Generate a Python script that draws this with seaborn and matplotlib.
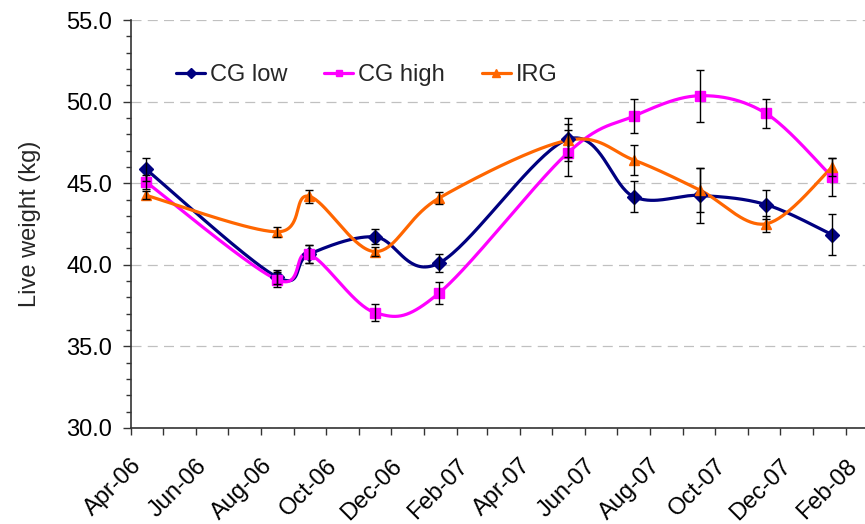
import numpy as np
import pandas as pd
import matplotlib
matplotlib.use("Agg")
import matplotlib.pyplot as plt
import matplotlib.dates as mdates
from matplotlib.lines import Line2D
from matplotlib.ticker import MultipleLocator, FormatStrFormatter
import seaborn as sns

# sampling dates and live weight (kg) with SE
dates = ["2006-04-15", "2006-08-16", "2006-09-15", "2006-11-16", "2007-01-15",
         "2007-05-16", "2007-07-17", "2007-09-17", "2007-11-18", "2008-01-19"]
cg_low = [45.86, 39.25, 40.65, 41.71, 40.10, 47.69, 44.17, 44.25, 43.69, 41.85]
cg_low_se = [0.71, 0.45, 0.55, 0.46, 0.56, 1.33, 0.95, 1.70, 0.87, 1.27]
cg_high = [45.08, 39.09, 40.65, 37.07, 38.26, 46.86, 49.11, 50.36, 49.28, 45.39]
cg_high_se = [0.45, 0.45, 0.55, 0.50, 0.67, 1.39, 1.03, 1.60, 0.90, 1.16]
irg = [44.26, 42.02, 44.20, 40.81, 44.08, 47.63, 46.42, 44.58, 42.51, 45.97]
irg_se = [0.25, 0.30, 0.39, 0.30, 0.38, 1.00, 0.91, 1.37, 0.50, 0.55]

series = [("CG low", cg_low, cg_low_se, "#000080", "D", 7),
          ("CG high", cg_high, cg_high_se, "#FF00FF", "s", 6.5),
          ("IRG", irg, irg_se, "#FF6600", "^", 7.5)]


def smooth(x, y, n=40):
    # Excel-style smoothed line (Bezier through the points)
    x = np.asarray(x, float)
    y = np.asarray(y, float)
    pts = np.column_stack([x, y])
    pad = np.vstack([pts[:1], pts, pts[-1:]])
    t = np.linspace(0, 1, n)[:, None]
    out = []
    for i in range(len(pts) - 1):
        p0, p1, p2, p3 = pad[i], pad[i + 1], pad[i + 2], pad[i + 3]
        c1 = p1 + (p2 - p0) / 6
        c2 = p2 - (p3 - p1) / 6
        seg = ((1 - t) ** 3) * p1 + 3 * ((1 - t) ** 2) * t * c1 + 3 * (1 - t) * t ** 2 * c2 + t ** 3 * p2
        out.append(seg if i == 0 else seg[1:])
    out = np.vstack(out)
    return out[:, 0], out[:, 1]


sns.set_theme(style="white")
plt.rcParams["font.family"] = ["Liberation Sans", "DejaVu Sans"]
plt.rcParams["font.size"] = 17

fig = plt.figure(figsize=(8.65, 5.24), dpi=100)
ax = fig.add_axes([131 / 865, 1 - 428 / 524, 1 - 131 / 865, (428 - 20) / 524])

xnum = mdates.date2num(pd.to_datetime(dates))
handles = []
for name, vals, se, col, mk, ms in series:
    sx, sy = smooth(xnum, vals)
    df_line = pd.DataFrame({"x": sx, "y": sy})
    sns.lineplot(data=df_line, x="x", y="y", sort=False, estimator=None,
                 color=col, lw=2.3, ax=ax, zorder=2)
    ax.errorbar(xnum, vals, yerr=se, fmt="none", ecolor="black", elinewidth=1.0,
                capsize=3, capthick=1.0, zorder=5)
    ax.plot(xnum, vals, ls="none", marker=mk, ms=ms, color=col, zorder=4)
    handles.append(Line2D([], [], color=col, lw=2.3, marker=mk, ms=ms - 1.5))

ax.set_xlim(mdates.date2num(pd.Timestamp("2006-04-01")), mdates.date2num(pd.Timestamp("2008-02-19")))
ax.set_ylim(30, 55)
ax.xaxis.set_major_locator(mdates.MonthLocator(bymonth=[2, 4, 6, 8, 10, 12]))
ax.xaxis.set_minor_locator(mdates.MonthLocator())
ax.xaxis.set_major_formatter(mdates.DateFormatter("%b-%y"))
ax.yaxis.set_major_locator(MultipleLocator(5))
ax.yaxis.set_minor_locator(MultipleLocator(1))
ax.yaxis.set_major_formatter(FormatStrFormatter("%.1f"))

ax.grid(axis="y", which="major", color="#c0c0c0", ls=(0, (8, 5)), lw=0.9)
ax.grid(axis="x", visible=False)
for s in ["top", "right"]:
    ax.spines[s].set_visible(False)
for s in ["left", "bottom"]:
    ax.spines[s].set_color("#333333")
    ax.spines[s].set_linewidth(1.2)

ax.tick_params(axis="y", which="major", left=True, length=5.5, width=1, color="#333333",
               pad=8, labelsize=17, labelcolor="black")
ax.tick_params(axis="y", which="minor", left=True, length=3.5, width=1, color="#333333")
ax.tick_params(axis="x", which="both", bottom=True, length=5.3, width=1, color="#333333",
               labelsize=17, labelcolor="black", pad=14)
for lab in ax.get_xticklabels():
    lab.set_rotation(45)
    lab.set_ha("right")
    lab.set_va("top")
    lab.set_rotation_mode("anchor")

ax.set_xlabel("")
ax.set_ylabel("Live weight (kg)", fontsize=17, labelpad=18)

ax.legend(handles, [s[0] for s in series], loc="center left", bbox_to_anchor=(0.061, 0.865),
          ncol=3, frameon=False, fontsize=17, handlelength=1.25, handletextpad=0.2,
          columnspacing=1.55, borderpad=0, borderaxespad=0)

fig.savefig("out.png", dpi=100)
